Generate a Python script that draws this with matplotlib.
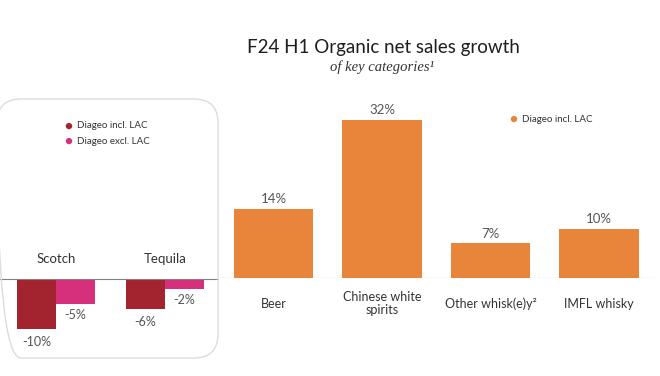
import matplotlib.pyplot as plt
from matplotlib.patches import FancyBboxPatch

# data
left_cats = ['Scotch', 'Tequila']
incl_lac = [-10, -6]
excl_lac = [-5, -2]
right_cats = ['Beer', 'Chinese white\nspirits', 'Other whisk(e)y\u00b2', 'IMFL whisky']
right_vals = [14, 32, 7, 10]

c_orange = '#E9853A'
c_red = '#A3242F'
c_pink = '#D62F7B'
c_text = '#333333'
c_val = '#555555'
c_line = '#808080'

plt.rcParams['font.family'] = ['Lato', 'DejaVu Sans']

W, H = 660, 376
fig = plt.figure(figsize=(6.6, 3.76), dpi=100)
fig.patch.set_facecolor('white')

# rounded box around the left panel (inches)
box = FancyBboxPatch((-0.03, 0.18), 2.21, 2.59,
                     boxstyle='round,pad=0,rounding_size=0.24',
                     transform=fig.dpi_scale_trans, facecolor='none',
                     edgecolor='#dcdcdc', linewidth=1.0)
fig.patches.append(box)

# left panel: scotch / tequila
axl = fig.add_axes([0, (H - 339) / H, 218 / W, 60 / H])
axl.set_xlim(-0.514, 1.486)
axl.set_ylim(-12, 0)
off = 0.179
bw = 0.358
xs = range(len(left_cats))
axl.bar([x - off for x in xs], incl_lac, width=bw, color=c_red)
axl.bar([x + off for x in xs], excl_lac, width=bw, color=c_pink)
axl.axhline(0, color=c_line, lw=0.8, clip_on=False)
for x, name, a, b in zip(xs, left_cats, incl_lac, excl_lac):
    axl.annotate(name, (x, 0), xytext=(0, 14.5), textcoords='offset points',
                 ha='center', va='center', fontsize=9.5, color=c_text)
    axl.annotate('%d%%' % a, (x - off, a), xytext=(0, -9.5), textcoords='offset points',
                 ha='center', va='center', fontsize=9, color=c_val, annotation_clip=False)
    axl.annotate('%d%%' % b, (x + off, b), xytext=(0, -8), textcoords='offset points',
                 ha='center', va='center', fontsize=9, color=c_val, annotation_clip=False)
axl.axis('off')

# right panel: growth categories
axr = fig.add_axes([220 / W, (H - 278) / H, 433 / W, 177.5 / H])
axr.set_xlim(-0.493, 3.498)
axr.set_ylim(0, 36)
axr.bar(range(len(right_cats)), right_vals, width=0.73, color=c_orange)
axr.axhline(0, color=c_line, lw=0.8)
for i, (name, v) in enumerate(zip(right_cats, right_vals)):
    axr.annotate('%d%%' % v, (i, v), xytext=(0, 7), textcoords='offset points',
                 ha='center', va='center', fontsize=9.5, color=c_val)
    axr.annotate(name, (i, 0), xytext=(0, -18.5), textcoords='offset points',
                 ha='center', va='center', fontsize=9, color=c_text, linespacing=1.1)
axr.axis('off')

# title
fig.text(383 / W, 1 - 47 / H, 'F24 H1 Organic net sales growth', ha='center', va='center',
         fontsize=13.5, color='#1e1e1e')
fig.text(382 / W, 1 - 67 / H, 'of key categories\u00b9', ha='center', va='center',
         fontsize=10.5, style='italic', family='Liberation Serif', color='#333333')

# legends
fig.text(68 / W, 1 - 126 / H, '\u25cf', ha='center', va='center', fontsize=9.5, color=c_red)
fig.text(77 / W, 1 - 126 / H, 'Diageo incl. LAC', ha='left', va='center', fontsize=7, color=c_text)
fig.text(68 / W, 1 - 141 / H, '\u25cf', ha='center', va='center', fontsize=9.5, color=c_pink)
fig.text(77 / W, 1 - 141 / H, 'Diageo excl. LAC', ha='left', va='center', fontsize=7, color=c_text)
fig.text(513 / W, 1 - 119 / H, '\u25cf', ha='center', va='center', fontsize=9.5, color=c_orange)
fig.text(522 / W, 1 - 119 / H, 'Diageo incl. LAC', ha='left', va='center', fontsize=7, color=c_text)

fig.savefig('out.png', dpi=100)
